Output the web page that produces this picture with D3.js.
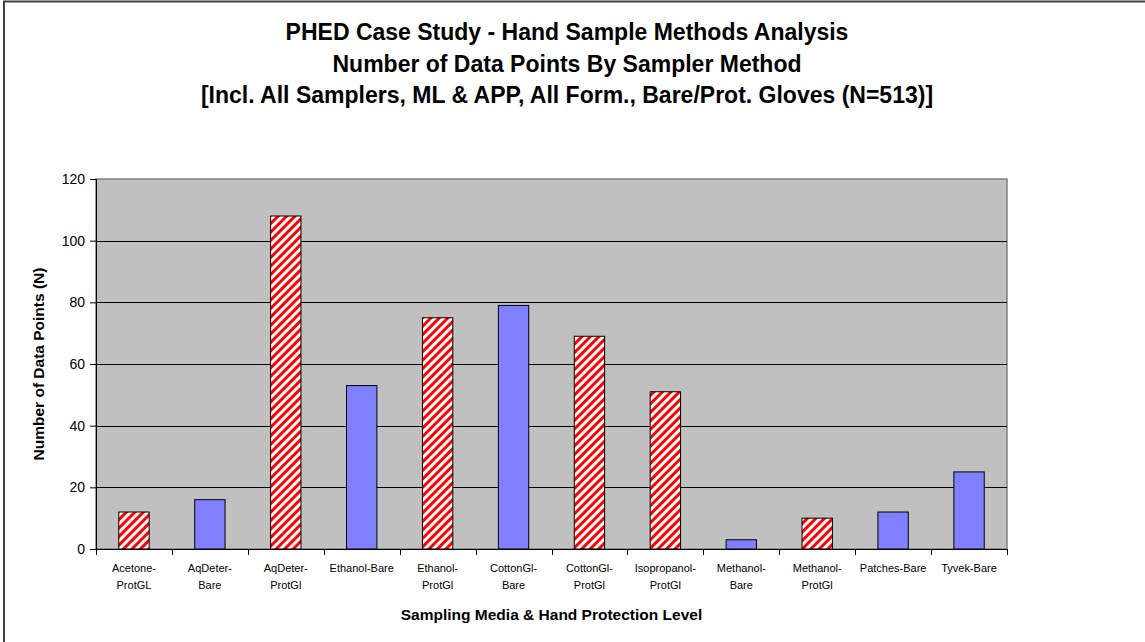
<!DOCTYPE html>
<html><head><meta charset="utf-8">
<script src="https://cdn.jsdelivr.net/npm/d3@7"></script>
<style>body{margin:0;background:#fff;} text{font-family:"Liberation Sans",Arial,sans-serif;}</style>
</head><body>
<svg id="chart" width="1145" height="642"></svg>
<script>
const categories = [
  ["Acetone-","ProtGL"], ["AqDeter-","Bare"], ["AqDeter-","ProtGl"], ["Ethanol-Bare"],
  ["Ethanol-","ProtGl"], ["CottonGl-","Bare"], ["CottonGl-","ProtGl"], ["Isopropanol-","ProtGl"],
  ["Methanol-","Bare"], ["Methanol-","ProtGl"], ["Patches-Bare"], ["Tyvek-Bare"]
];
const values = [12, 16, 108, 53, 75, 79, 69, 51, 3, 10, 12, 25];
const protection = ["ProtGl","Bare","ProtGl","Bare","ProtGl","Bare","ProtGl","ProtGl","Bare","ProtGl","Bare","Bare"];
const yTicks = [0, 20, 40, 60, 80, 100, 120];
const titleLines = [
  "PHED Case Study - Hand Sample Methods Analysis",
  "Number of Data Points By Sampler Method",
  "[Incl. All Samplers, ML & APP, All Form., Bare/Prot. Gloves (N=513)]"
];
const xTitle = "Sampling Media & Hand Protection Level";
const yTitle = "Number of Data Points (N)";

const svg = d3.select("#chart");
const m = {left: 96, right: 1007, top: 179, bottom: 549};

// outer frame
svg.append("rect").attr("x", 4).attr("y", 1.5).attr("width", 1160).attr("height", 660)
  .attr("fill", "none").attr("stroke", "#404040").attr("stroke-width", 2);

const defs = svg.append("defs");
const pat = defs.append("pattern").attr("id", "stripe").attr("patternUnits", "userSpaceOnUse")
  .attr("width", 6).attr("height", 6).attr("patternTransform", "rotate(45)");
pat.append("rect").attr("width", 6).attr("height", 6).attr("fill", "#fff");
pat.append("rect").attr("width", 3).attr("height", 6).attr("fill", "#ff0000");

const x = d3.scaleBand().domain(d3.range(categories.length)).range([m.left, m.right]).paddingInner(0.6).paddingOuter(0.3);
const xb = d3.scaleBand().domain(d3.range(categories.length)).range([m.left, m.right]);
const y = d3.scaleLinear().domain([0, 120]).range([m.bottom, m.top]);

// plot bg
svg.append("rect").attr("x", m.left).attr("y", m.top).attr("width", m.right - m.left).attr("height", m.bottom - m.top)
  .attr("fill", "#c0c0c0").attr("stroke", "#808080").attr("stroke-width", 1.5);

// gridlines
svg.append("g").selectAll("line").data(yTicks.filter(d => d > 0 && d < 120)).join("line")
  .attr("x1", m.left).attr("x2", m.right)
  .attr("y1", d => Math.round(y(d)) + 0.5).attr("y2", d => Math.round(y(d)) + 0.5)
  .attr("stroke", "#000").attr("stroke-width", 1);

// bars
svg.append("g").selectAll("rect").data(values).join("rect")
  .attr("x", (d, i) => x(i)).attr("width", x.bandwidth())
  .attr("y", d => y(d)).attr("height", d => y(0) - y(d))
  .attr("fill", (d, i) => protection[i] === "Bare" ? "#8080ff" : "url(#stripe)")
  .attr("stroke", "#000").attr("stroke-width", 1);

// y axis
const yAxis = d3.axisLeft(y).tickValues(yTicks).tickSize(6).tickPadding(5);
const gy = svg.append("g").attr("transform", `translate(${m.left},0)`).call(yAxis);
gy.select(".domain").attr("stroke", "#000");
gy.selectAll("text").attr("font-size", 14).attr("fill", "#000").style("font-family", "'Liberation Sans',Arial,sans-serif");

// x axis line + ticks
const gx = svg.append("g");
gx.append("line").attr("x1", m.left).attr("x2", m.right).attr("y1", m.bottom + 0.5).attr("y2", m.bottom + 0.5).attr("stroke", "#000");
gx.selectAll("line.t").data(d3.range(categories.length + 1)).join("line").attr("class", "t")
  .attr("x1", i => Math.round(i < categories.length ? xb(i) : m.right) + 0.5)
  .attr("x2", i => Math.round(i < categories.length ? xb(i) : m.right) + 0.5)
  .attr("y1", m.bottom).attr("y2", m.bottom + 6).attr("stroke", "#000");

// x labels
const lab = svg.append("g").selectAll("text").data(categories).join("text")
  .attr("text-anchor", "middle").attr("font-size", 11).attr("fill", "#000");
lab.each(function(d, i) {
  const t = d3.select(this);
  d.forEach((s, k) => t.append("tspan").attr("x", xb(i) + xb.bandwidth() / 2).attr("y", 572 + k * 17).text(s));
});

// titles
svg.append("g").selectAll("text").data(titleLines).join("text")
  .attr("x", 567).attr("y", (d, i) => 40 + i * 31.5).attr("text-anchor", "middle")
  .attr("font-size", 23).attr("font-weight", "bold").attr("fill", "#000").text(d => d);

svg.append("text").attr("x", (m.left + m.right) / 2).attr("y", 620).attr("text-anchor", "middle")
  .attr("font-size", 15.5).attr("font-weight", "bold").attr("fill", "#000").text(xTitle);

svg.append("text").attr("transform", `translate(44,${(m.top + m.bottom) / 2}) rotate(-90)`).attr("text-anchor", "middle")
  .attr("font-size", 15.5).attr("font-weight", "bold").attr("fill", "#000").text(yTitle);
</script>
</body></html>
